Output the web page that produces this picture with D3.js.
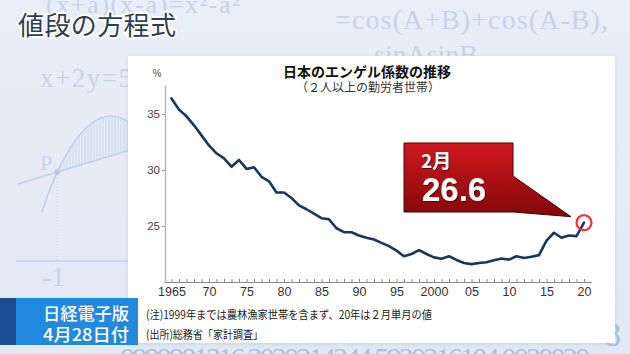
<!DOCTYPE html>
<html><head><meta charset="utf-8">
<script src="https://cdn.jsdelivr.net/npm/d3@7"></script>
<style>
html,body{margin:0;padding:0;background:#e6edf7;overflow:hidden;}
svg{display:block;}
</style></head><body>
<svg id="c" width="630" height="354"></svg>
<script>
// ---------------- data ----------------
const years = [1965,1966,1967,1968,1969,1970,1971,1972,1973,1974,
               1975,1976,1977,1978,1979,1980,1981,1982,1983,1984,
               1985,1986,1987,1988,1989,1990,1991,1992,1993,1994,
               1995,1996,1997,1998,1999,2000,2001,2002,2003,2004,
               2005,2006,2007,2008,2009,2010,2011,2012,2013,2014,
               2015,2016,2017,2018,2019,2020];
const engel = [36.4,35.4,34.8,34.0,33.1,32.2,31.5,31.05,30.3,30.9,
               30.1,30.25,29.4,29.0,28.0,28.0,27.5,26.85,26.5,26.1,
               25.7,25.6,24.8,24.45,24.45,24.15,23.95,23.8,23.5,23.2,
               22.8,22.3,22.5,22.85,22.5,22.2,22.07,22.3,21.97,21.7,
               21.6,21.7,21.77,21.95,22.1,22.0,22.3,22.15,22.25,22.4,
               23.7,24.4,23.95,24.15,24.1,25.3];
const yTickValues = [25, 30, 35];
const xLabelYears = [1965,1970,1975,1980,1985,1990,1995,2000,2005,2010,2015,2020];
const xLabelTexts = ["1965","70","75","80","85","90","95","2000","05","10","15","20"];
const chartTitle = "日本のエンゲル係数の推移";
const chartSubtitle = "（２人以上の勤労者世帯）";
const unitLabel = "%";
const noteLines = ["(注)1999年までは農林漁家世帯を含まず、20年は２月単月の値", "(出所)総務省「家計調査」"];
const calloutMonth = "2月";
const calloutValue = "26.6";
const programTitle = "値段の方程式";
const badgeLines = ["日経電子版", "4月28日付"];

// ---------------- drawing ----------------
const svg = d3.select("#c");
const defs = svg.append("defs");

const bg = defs.append("linearGradient").attr("id","bg").attr("x1",0).attr("y1",0).attr("x2",0).attr("y2",1);
bg.append("stop").attr("offset","0%").attr("stop-color","#e9eff8");
bg.append("stop").attr("offset","100%").attr("stop-color","#e1e9f4");

const red = defs.append("linearGradient").attr("id","red").attr("x1",0).attr("y1",0).attr("x2",0).attr("y2",1);
red.append("stop").attr("offset","0%").attr("stop-color","#d0181e");
red.append("stop").attr("offset","100%").attr("stop-color","#820808");

const hatch = defs.append("pattern").attr("id","hatch").attr("width",3).attr("height",4)
  .attr("patternUnits","userSpaceOnUse");
hatch.append("line").attr("x1",1).attr("x2",1).attr("y1",0).attr("y2",4)
  .attr("stroke","#c2d2ea").attr("stroke-width",0.8);

const sh = defs.append("filter").attr("id","sh").attr("x","-5%").attr("y","-5%").attr("width","110%").attr("height","110%");
sh.append("feDropShadow").attr("dx",0).attr("dy",1).attr("stdDeviation",2)
  .attr("flood-color","#506080").attr("flood-opacity",0.18);
const tsh = defs.append("filter").attr("id","tsh");
tsh.append("feDropShadow").attr("dx",1).attr("dy",1).attr("stdDeviation",0.6)
  .attr("flood-color","#300").attr("flood-opacity",0.7);

svg.append("rect").attr("width",630).attr("height",354).attr("fill","url(#bg)");

// background decorations (faint formulas)
const deco = svg.append("g").attr("fill","#c6d4ea").attr("font-family","'Liberation Serif','DejaVu Serif',serif");
deco.append("text").attr("x",46).attr("y",13).attr("font-size",26).attr("textLength",194).text("(x+a)(x-a)=x²-a²");
deco.append("text").attr("x",335).attr("y",29).attr("font-size",28).attr("textLength",273).text("=cos(A+B)+cos(A-B),");
deco.append("text").attr("x",374).attr("y",64).attr("font-size",28).attr("textLength",104).text("sinAsinB");
deco.append("text").attr("x",40).attr("y",87).attr("font-size",27).attr("textLength",92).text("x+2y=5");
deco.append("text").attr("x",40).attr("y",170).attr("font-size",22).text("P");
deco.append("text").attr("x",42).attr("y",286).attr("font-size",28).text("-1");
deco.append("path").attr("d","M42,212 C55,170 80,118 110,116 C120,116 126,120 130,123 L130,150 L57,172 Z")
  .attr("fill","url(#hatch)");
deco.append("path").attr("d","M42,212 C55,170 80,118 110,116 C120,116 126,120 130,123")
  .attr("fill","none").attr("stroke","#bfd0ea").attr("stroke-width",1.5);
deco.append("line").attr("x1",18).attr("y1",184).attr("x2",130).attr("y2",150)
  .attr("stroke","#bfd0ea").attr("stroke-width",1.5);
deco.append("line").attr("x1",57).attr("y1",172).attr("x2",57).attr("y2",261)
  .attr("stroke","#c6d4ea").attr("stroke-dasharray","1,2");
deco.append("line").attr("x1",16).attr("y1",261).attr("x2",130).attr("y2",261)
  .attr("stroke","#c6d4ea").attr("stroke-width",1.5);
deco.append("circle").attr("cx",57).attr("cy",172).attr("r",3).attr("fill","#b9cbe8");
deco.append("text").attr("x",120).attr("y",368).attr("font-size",30).attr("fill","#aac0e3")
  .attr("textLength",470).text("0999981316 3020314344 5920316104 0020020");
deco.append("text").attr("x",604).attr("y",346).attr("font-size",34).attr("fill","#aac0e3").text("8");

// white panel
svg.append("rect").attr("x",128).attr("y",56).attr("width",487).attr("height",287)
  .attr("fill","#fff").attr("filter","url(#sh)");

// program title
svg.append("text").attr("x",18).attr("y",35)
  .attr("font-family","'Noto Sans CJK JP',sans-serif").attr("font-size",26).attr("font-weight",400)
  .attr("fill","#2f3e50").attr("stroke","#ffffff").attr("stroke-width",3.5)
  .attr("paint-order","stroke").attr("textLength",158).text(programTitle);

// scales
const x = d3.scaleLinear().domain([1964, 2021]).range([164, 591.5]);
const y = d3.scaleLinear().domain([20, 37.6]).range([282, 85]);

// chart title
svg.append("text").attr("x",367).attr("y",77).attr("text-anchor","middle")
  .attr("font-family","'Noto Sans CJK JP',sans-serif").attr("font-size",14).attr("font-weight",700)
  .attr("fill","#111").text(chartTitle);
svg.append("text").attr("x",368).attr("y",92).attr("text-anchor","middle")
  .attr("font-family","'Noto Sans CJK JP',sans-serif").attr("font-size",12)
  .attr("fill","#333").text(chartSubtitle);
svg.append("text").attr("x",157).attr("y",77).attr("text-anchor","middle")
  .attr("font-family","'Liberation Sans Narrow','Liberation Sans',sans-serif").attr("font-size",10)
  .attr("fill","#555").text(unitLabel);

// y axis
const yAxis = svg.append("g").attr("transform","translate(165,0)")
  .call(d3.axisLeft(y).tickValues(yTickValues).tickSize(3).tickSizeOuter(0).tickPadding(2));
yAxis.select(".domain").attr("stroke","#b8b8b8").attr("stroke-width",1.5);
yAxis.selectAll(".tick line").attr("stroke","#999");
yAxis.selectAll(".tick text").attr("fill","#444")
  .attr("font-family","'Liberation Sans Narrow','Liberation Sans',sans-serif").attr("font-size",11.5);

// x axis
const labelMap = new Map(xLabelYears.map((yr,i)=>[yr, xLabelTexts[i]]));
const xAxis = svg.append("g").attr("transform","translate(0,282)")
  .call(d3.axisBottom(x).tickValues(years).tickSize(-3).tickSizeOuter(0).tickPadding(5)
    .tickFormat(d => labelMap.get(d) || ""));
xAxis.select(".domain").attr("stroke","#8a8a8a").attr("stroke-width",1);
xAxis.selectAll(".tick line").attr("stroke","#8a8a8a");
xAxis.selectAll(".tick text").attr("fill","#333")
  .attr("font-family","'Liberation Sans Narrow','Liberation Sans',sans-serif").attr("font-size",12.5);

// line
const data = years.map((yr,i)=>({year:yr, value:engel[i]}));
svg.append("path").datum(data)
  .attr("fill","none").attr("stroke","#1b365d").attr("stroke-width",2.6)
  .attr("stroke-linejoin","round").attr("stroke-linecap","round")
  .attr("d", d3.line().x(d=>x(d.year)).y(d=>y(d.value)));

// highlight circle on last point
const last = data[data.length-1];
const cx = x(last.year), cy = y(last.value);
svg.append("circle").attr("cx",cx).attr("cy",cy).attr("r",7.5)
  .attr("fill","none").attr("stroke","#e8363c").attr("stroke-width",2.2);

// callout
const cg = svg.append("g");
cg.append("path").attr("d",`M404,143 L513,143 L513,176 L${cx-13},${cy-6} L513,212 L404,212 Z`)
  .attr("fill","url(#red)").attr("stroke","#4a0404").attr("stroke-width",1);
cg.append("text").attr("x",421).attr("y",168)
  .attr("font-family","'Noto Sans CJK JP',sans-serif").attr("font-size",19).attr("font-weight",700)
  .attr("fill","#fff").attr("filter","url(#tsh)").text(calloutMonth);
cg.append("text").attr("x",422).attr("y",201)
  .attr("font-family","'Liberation Sans',Arial,sans-serif").attr("font-size",33).attr("font-weight",700)
  .attr("fill","#fff").attr("filter","url(#tsh)").text(calloutValue);

// notes
svg.selectAll("text.note").data(noteLines).join("text").attr("class","note")
  .attr("x",146).attr("y",(d,i)=>319 + i*20)
  .attr("font-family","'Noto Sans CJK JP',sans-serif").attr("font-size",11.5)
  .attr("fill","#222")
  .attr("textLength",(d,i)=> i===0 ? 286 : 117).attr("lengthAdjust","spacingAndGlyphs")
  .text(d=>d);

// source badge
svg.append("rect").attr("x",0).attr("y",298).attr("width",16).attr("height",47).attr("fill","#1b4f93");
svg.append("rect").attr("x",16).attr("y",298).attr("width",122).attr("height",47).attr("fill","#2389dc");
svg.selectAll("text.badge").data(badgeLines).join("text").attr("class","badge")
  .attr("x",86).attr("y",(d,i)=>320 + i*21).attr("text-anchor","middle")
  .attr("font-family","'Noto Sans CJK JP',sans-serif").attr("font-size",17).attr("font-weight",500)
  .attr("fill","#fff").attr("textLength",86).attr("lengthAdjust","spacingAndGlyphs")
  .text(d=>d);
</script>
</body></html>
